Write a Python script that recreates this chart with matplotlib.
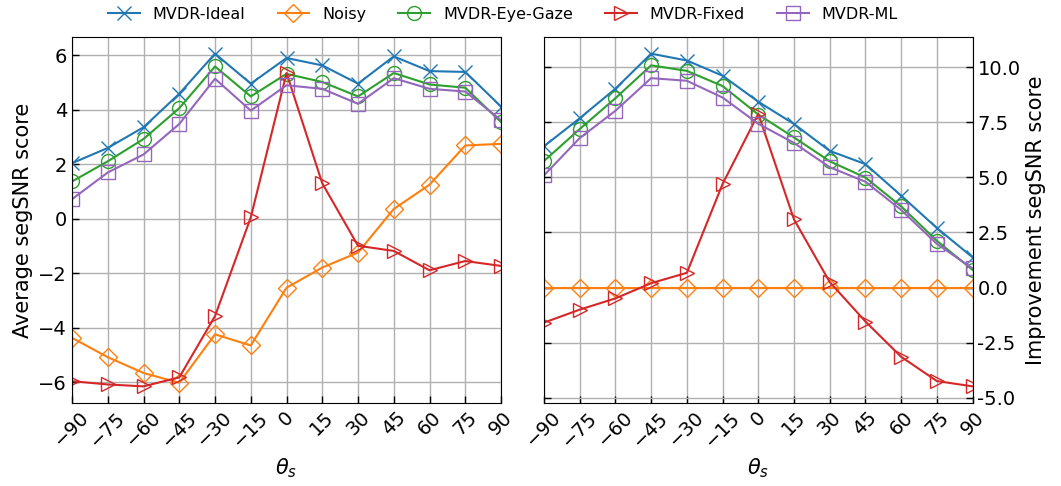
import numpy as np
import matplotlib
matplotlib.use("Agg")
import matplotlib.pyplot as plt
from matplotlib.ticker import MultipleLocator, FormatStrFormatter

# Steering angle of the target source (degrees)
angles = [-90, -75, -60, -45, -30, -15, 0, 15, 30, 45, 60, 75, 90]

# Average segSNR per method
snr_ideal = [2.04, 2.60, 3.36, 4.59, 6.06, 4.96, 5.90, 5.63, 4.96, 5.96, 5.42, 5.39, 4.12]
snr_noisy = [-4.37, -5.08, -5.66, -6.02, -4.24, -4.65, -2.53, -1.79, -1.24, 0.36, 1.25, 2.69, 2.75]
snr_eye_gaze = [1.37, 2.11, 2.93, 4.06, 5.59, 4.49, 5.32, 5.02, 4.49, 5.35, 4.93, 4.81, 3.55]
snr_fixed = [-5.96, -6.08, -6.15, -5.82, -3.57, 0.05, 5.35, 1.30, -0.99, -1.18, -1.89, -1.55, -1.73]
snr_ml = [0.72, 1.70, 2.36, 3.48, 5.14, 3.97, 4.90, 4.77, 4.22, 5.16, 4.77, 4.67, 3.62]

series = [
    ("MVDR-Ideal", snr_ideal, "x", "C0"),
    ("Noisy", snr_noisy, "D", "C1"),
    ("MVDR-Eye-Gaze", snr_eye_gaze, "o", "C2"),
    ("MVDR-Fixed", snr_fixed, ">", "C3"),
    ("MVDR-ML", snr_ml, "s", "C4"),
]

plt.rcParams["font.family"] = ["DejaVu Sans"]
plt.rcParams["xtick.direction"] = "in"
plt.rcParams["ytick.direction"] = "in"

fig = plt.figure(figsize=(10.61, 4.86), dpi=100)
ax1 = fig.add_axes([0.0679, 0.1708, 0.4043, 0.753])
ax2 = fig.add_axes([0.5127, 0.1708, 0.4040, 0.753])

noisy = np.array(snr_noisy)
handles = []
for label, vals, marker, color in series:
    vals = np.array(vals)
    ms = 9.5 if marker == "D" else 10
    h, = ax1.plot(angles, vals, marker=marker, color=color, markersize=ms,
                  fillstyle="none", lw=1.5, label=label)
    # improvement relative to the unprocessed (noisy) signal
    ax2.plot(angles, vals - noisy, marker=marker, color=color, markersize=ms,
             fillstyle="none", lw=1.5)
    handles.append(h)

for ax in (ax1, ax2):
    ax.set_xlim(-90, 90)
    ax.set_xticks(angles)
    ax.set_xticklabels([str(a).replace("-", "\u2212") for a in angles],
                       rotation=45, fontsize=14)
    ax.grid(True, color="#b0b0b0", lw=1.0)
    ax.set_axisbelow(True)
    ax.set_xlabel(r"$\theta_s$", fontsize=15)
    ax.tick_params(axis="both", length=5, width=1.0, labelsize=14)

ax1.set_ylabel("Average segSNR score", fontsize=15)

ax2.yaxis.set_major_locator(MultipleLocator(2.5))
ax2.yaxis.set_major_formatter(FormatStrFormatter("%.1f"))
ax2.yaxis.set_label_position("right")
ax2.tick_params(axis="y", left=True, right=True, labelleft=False,
                labelright=True)
ax2.set_ylabel("Improvement segSNR score", fontsize=15)

fig.legend(handles=handles, loc="upper center", ncol=5, frameon=False,
           bbox_to_anchor=(0.474, 1.015), fontsize=11.5, handlelength=2.0,
           columnspacing=2.0)

fig.savefig("out.png", dpi=100)
